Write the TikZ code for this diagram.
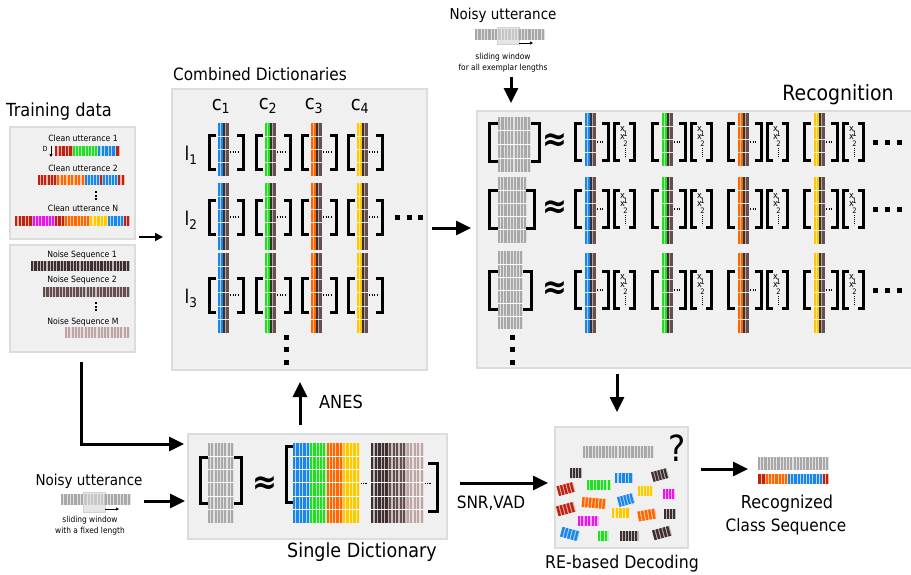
\documentclass[tikz,border=0pt]{standalone}
\usepackage{fontspec}
\setmainfont{DejaVu Sans}[FakeStretch=0.9]
\usetikzlibrary{arrows.meta}
\definecolor{cblue}{RGB}{28,134,232}
\definecolor{cgreen}{RGB}{34,222,34}
\definecolor{corange}{RGB}{255,102,0}
\definecolor{cyellow}{RGB}{255,200,0}
\definecolor{cred}{RGB}{190,35,15}
\definecolor{cmag}{RGB}{238,20,238}
\definecolor{brA}{RGB}{62,46,46}
\definecolor{brB}{RGB}{100,78,78}
\definecolor{brC}{RGB}{190,165,165}
\definecolor{brL}{RGB}{175,165,165}
\definecolor{ngray}{RGB}{168,168,168}
\definecolor{panelbg}{RGB}{240,240,240}
\definecolor{panelbd}{RGB}{220,220,220}

\newcommand\myfs[1]{\fontsize{#1}{#1}\selectfont}

% striped bar: x0 x1 y0 y1 color
\newcommand\sbar[5]{%
  \pgfmathtruncatemacro\sbn{max(1,round(((#2)-(#1))/3.3))}%
  \pgfmathsetmacro\sbw{((#2)-(#1))/\sbn}%
  \fill[fill=#5!35!white] (#1,#3) rectangle (#2,#4);
  \foreach \i in {1,...,\sbn}{\fill[fill=#5] ({#1+(\i-1)*\sbw},#3) rectangle ({#1+(\i-1)*\sbw+0.68*\sbw},#4);}%
}
% grid block: x0 x1 ytop ncells cellh color
\newcommand\gblk[6]{%
  \pgfmathsetmacro\gbb{#3+#4*#5}%
  \sbar{#1}{#2}{#3}{\gbb}{#6}
  \pgfmathtruncatemacro\gbm{#4-1}%
  \foreach \k in {1,...,\gbm}{\draw[white, line width=1pt] (#1,{#3+\k*#5}) -- (#2,{#3+\k*#5});}%
}
% dictionary column: x0 ytop n color
\newcommand\dcol[4]{%
  \pgfmathsetmacro\dcb{#2+#3*13.3}%
  \fill[fill=#4] (#1,#2) rectangle ({#1+4.5},\dcb);
  \draw[draw=#4!45!white, line width=0.7pt] ({#1+2.2},#2) -- ({#1+2.2},\dcb);
  \fill[fill=brL] ({#1+4.5},#2) rectangle ({#1+11},\dcb);
  \fill[fill=brA] ({#1+5.2},#2) rectangle ({#1+7.4},\dcb);
  \fill[fill=brB] ({#1+8.4},#2) rectangle ({#1+10.6},\dcb);
  \pgfmathtruncatemacro\dcm{#3-1}%
  \foreach \k in {1,...,\dcm}{\draw[white, opacity=.85, line width=0.9pt] (#1,{#2+\k*13.3}) -- ({#1+11},{#2+\k*13.3});}%
}
\newcommand\lbr[4]{\draw[brk] ({#1+#4},#2) -- (#1,#2) -- (#1,#3) -- ({#1+#4},#3);}
\newcommand\rbr[4]{\draw[brk] ({#1-#4},#2) -- (#1,#2) -- (#1,#3) -- ({#1-#4},#3);}
\newcommand\sq[3][5]{\fill ({#2-#1/2},{#3-#1/2}) rectangle ({#2+#1/2},{#3+#1/2});}
% rotated block: cx cy w h angle color
\newcommand\rblk[6]{%
  \begin{scope}[shift={(#1,#2)},rotate=#5]
  \pgfmathsetmacro\rbw{#3/2}\pgfmathsetmacro\rbh{#4/2}%
  \sbar{-\rbw}{\rbw}{-\rbh}{\rbh}{#6}
  \end{scope}}

\begin{document}
\begin{tikzpicture}[x=1pt,y=-1pt,
  panel/.style={fill=panelbg, draw=panelbd, line width=1.5pt, inner sep=0pt, outer sep=0pt, anchor=north west},
  arr/.style={line width=3pt, line join=miter, -{Triangle[length=15pt,width=14pt]}},
  sarr/.style={line width=1.8pt, -{Triangle[length=8pt,width=8pt]}},
  tarr/.style={line width=0.7pt, -{Triangle[length=3pt,width=3pt]}},
  brk/.style={line width=3pt, line cap=butt, line join=miter},
  dotln/.style={line width=1.2pt, dash pattern=on 1.2pt off 1.4pt},
  big/.style={font=\myfs{17}, inner sep=0pt},
  mid/.style={font=\myfs{15}, inner sep=0pt},
  small/.style={font=\myfs{8.6}, inner sep=0pt},
  tiny/.style={font=\myfs{8.3}, inner sep=0pt},
  approx/.style={font=\bfseries\myfs{33}, inner sep=0pt}]
\useasboundingbox (0,0) rectangle (911,574);

% ---------- panels ----------
\node[panel,minimum width=125pt,minimum height=112pt] (train1) at (10,127) {};
\node[panel,minimum width=125pt,minimum height=107pt] (train2) at (10,245) {};
\node[panel,minimum width=255pt,minimum height=281pt] (comb) at (172,89) {};
\node[panel,minimum width=445pt,minimum height=257pt] (recog) at (477,111) {};
\node[panel,minimum width=259pt,minimum height=105pt] (single) at (188,434) {};
\node[panel,minimum width=133pt,minimum height=121pt] (redec) at (555,427) {};

% ---------- titles ----------
\node[big, font=\myfs{18}] (ttrain) at (59,112) {Training data};
\node[big] (tcomb) at (260,74) {Combined Dictionaries};
\node[big, font=\myfs{21}] (trecog) at (838,95) {Recognition};
\node[big, font=\myfs{19.5}] (tsingle) at (362,552) {Single Dictionary};
\node[big, font=\myfs{17.5}] (tredec) at (622,564) {RE-based Decoding};
\node[big, font=\myfs{18}] (tanes) at (341,402) {ANES};
\node[big] (tsnr) at (491,503) {SNR,VAD};
\node[big, font=\myfs{17.8}] (trec1) at (787,504) {Recognized};
\node[big] (trec2) at (786,527) {Class Sequence};

% ---------- training data ----------
\node[small] (cu1) at (83,138) {Clean utterance 1};
\node[small] (cu2) at (83,168) {Clean utterance 2};
\node[small] (cuN) at (83,208) {Clean utterance N};
\node[small] (ns1) at (82,255) {Noise Sequence 1};
\node[small] (ns2) at (82,280) {Noise Sequence 2};
\node[small] (nsM) at (83,322) {Noise Sequence M};
\node[font=\myfs{7}, inner sep=0pt] (dlab) at (45,149) {D};
\coordinate (dA) at (51,146);
\coordinate (dB) at (51,157);
\draw[tarr] (dA) -- (dB);
\sbar{55}{73}{146}{156}{cred}
\sbar{73}{98}{146}{156}{cgreen}
\sbar{98}{116}{146}{156}{cblue}
\sbar{116}{120}{146}{156}{cred}
\sbar{38}{57}{175}{185}{cred}
\sbar{57}{85}{175}{185}{corange}
\sbar{85}{100}{175}{185}{cblue}
\sbar{100}{103}{175}{185}{cred}
\sbar{103}{118}{175}{185}{cblue}
\sbar{118}{125}{175}{185}{cred}
\sq[2]{96}{192}\sq[2]{96}{195.5}\sq[2]{96}{199}
\sbar{15}{33}{216}{226}{cred}
\sbar{33}{55}{216}{226}{cmag}
\sbar{55}{65}{216}{226}{cred}
\sbar{65}{90}{216}{226}{corange}
\sbar{90}{108}{216}{226}{cyellow}
\sbar{108}{124}{216}{226}{cblue}
\sbar{124}{130}{216}{226}{cred}
\sbar{31}{130}{261}{271}{brA}
\sbar{43}{130}{287}{297}{brB}
\sq[2]{96}{303}\sq[2]{96}{306.5}\sq[2]{96}{310}
\sbar{65}{130}{327}{338}{brC}

% ---------- combined dictionaries ----------
\foreach \x/\i in {218/1,265/2,311/3,357/4}{
  \node[font=\myfs{20}, inner sep=0pt] (c\i) at (\x+3,106) {c\textsubscript{\i}};
}
\foreach \yt/\n/\yc/\lab in {123/4/152/1,183/5/217/2,253/6/295/3}{
  \node[font=\myfs{19}, inner sep=0pt] (l\lab) at (191,\yc+3) {l\textsubscript{\lab}};
  \foreach \x/\c in {218/cblue,265/cgreen,311/corange,357/cyellow}{
    \dcol{\x}{\yt}{\n}{\c}
    \lbr{\x-8.5}{\yc-17}{\yc+17}{6.5}
    \rbr{\x+25.5}{\yc-17}{\yc+17}{6.5}
    \draw[dotln] (\x+12,\yc) -- (\x+20,\yc);
  }
}
\sq{397.5}{217.5}\sq{409.5}{217.5}\sq{420.5}{217.5}
\sq{286}{337}\sq{286}{349.5}\sq{286}{362}

% ---------- recognition ----------
\foreach \yt/\n/\yc/\bx/\rb/\gy/\gn/\gh in {113/4/142/531/539/117/4/13.75,177/5/209/527/534/177/5/13.2,253/6/290/523/531/251/6/13}{
  \gblk{498}{\bx}{\gy}{\gn}{\gh}{ngray}
  \lbr{489}{\yc-19}{\yc+19}{9}
  \rbr{\rb}{\yc-19}{\yc+19}{8}
  \node[approx] (ap\yc) at (555,\yc) {≈};
  \foreach \x/\c in {585/cblue,662/cgreen,738/corange,814/cyellow}{
    \dcol{\x}{\yt}{\n}{\c}
    \lbr{\x-10}{\yc-18.5}{\yc+18.5}{7}
    \rbr{\x+23}{\yc-18.5}{\yc+18.5}{6}
    \draw[dotln] (\x+12,\yc) -- (\x+19,\yc);
    \lbr{\x+29}{\yc-18.5}{\yc+18.5}{5.5}
    \rbr{\x+49}{\yc-18.5}{\yc+18.5}{5.5}
    \node[font=\myfs{9}, inner sep=0pt] (xa\x\yc) at (\x+37.5,\yc-13) {x};
    \node[font=\myfs{7.5}, inner sep=0pt] (xb\x\yc) at (\x+40.5,\yc-8) {1};
    \node[font=\myfs{9}, inner sep=0pt] (xc\x\yc) at (\x+37.5,\yc-4.5) {x};
    \node[font=\myfs{7.5}, inner sep=0pt] (xd\x\yc) at (\x+40.5,\yc+1.5) {2};
    \draw[line width=0.6pt, dash pattern=on 0.7pt off 1.3pt] (\x+40,\yc+6) -- (\x+40,\yc+16);
  }
  \sq{875}{\yc}\sq{887}{\yc}\sq{899}{\yc}
}
\sq{512}{337}\sq{512}{349.5}\sq{512}{362}

% ---------- top noisy utterance ----------
\node[mid] (nu1) at (503,15) {Noisy utterance};
\fill[gray!20] (497,27) rectangle (519,44);
\draw[gray!35, line width=0.5pt] (497,27) rectangle (519,44);
\sbar{475}{545}{29}{40}{ngray}
\fill[gray!20,opacity=.5] (497,29) rectangle (519,40);
\coordinate (w1a) at (519,43);
\coordinate (w1b) at (533,43);
\draw[tarr] (w1a) -- (w1b);
\node[tiny] (sw1) at (503,57) {sliding window};
\node[tiny] (sw1b) at (503,68) {for all exemplar lengths};

% ---------- bottom noisy utterance ----------
\node[mid] (nu2) at (89,481) {Noisy utterance};
\fill[gray!20] (83,492) rectangle (105,512);
\draw[gray!35, line width=0.5pt] (83,492) rectangle (105,512);
\sbar{61}{131}{494}{505}{ngray}
\fill[gray!20,opacity=.5] (83,494) rectangle (105,505);
\coordinate (w2a) at (105,509);
\coordinate (w2b) at (119,509);
\draw[tarr] (w2a) -- (w2b);
\node[tiny] (sw2) at (90,520) {sliding window};
\node[tiny] (sw2b) at (90,531) {with a fixed length};

% ---------- single dictionary ----------
\gblk{208}{234}{443}{6}{13.33}{ngray}
\lbr{200}{457}{503}{8}
\rbr{241}{457}{503}{7}
\node[approx] (aps) at (265,485) {≈};
\lbr{286}{446}{502}{8}
\gblk{293}{310}{443}{6}{13.33}{cblue}
\gblk{310}{326.5}{443}{6}{13.33}{cgreen}
\gblk{326.5}{343}{443}{6}{13.33}{corange}
\gblk{343}{360}{443}{6}{13.33}{cyellow}
\draw[line width=0.8pt, dash pattern=on 0.8pt off 1pt] (361,483) -- (368,483);
\gblk{371}{389}{443}{6}{13.33}{brA}
\gblk{389}{406.5}{443}{6}{13.33}{brB}
\gblk{406.5}{424}{443}{6}{13.33}{brC}
\draw[line width=0.8pt, dash pattern=on 0.8pt off 1pt] (425,483) -- (432,483);
\rbr{437}{463}{511}{9}

% ---------- RE-based decoding ----------
\node[font=\myfs{36}, inner sep=0pt] (qm) at (677,448) {?};
\sbar{583}{654}{446}{458}{ngray}
\rblk{576}{473}{12}{10}{0}{brA}
\rblk{566}{489}{17}{10}{15}{cred}
\rblk{599}{485}{24}{10}{0}{cgreen}
\rblk{624}{478}{18}{10}{0}{cblue}
\rblk{660}{475}{16}{10}{15}{brA}
\rblk{645}{491}{15}{10}{0}{cyellow}
\rblk{669}{494}{12}{10}{0}{cmag}
\rblk{594}{503}{24}{10}{-5}{corange}
\rblk{626}{500}{16}{10}{15}{cblue}
\rblk{566}{509}{18}{10}{15}{cred}
\rblk{588}{521}{21}{10}{0}{cmag}
\rblk{621}{513}{18}{10}{0}{cyellow}
\rblk{647}{515}{18}{10}{10}{corange}
\rblk{670}{514}{12}{10}{0}{brA}
\rblk{570}{534}{18}{10}{-15}{cblue}
\rblk{603}{536}{11}{10}{0}{cgreen}
\rblk{629}{536}{19}{10}{0}{brA}
\rblk{662}{533}{18}{10}{15}{brA}

% ---------- recognized sequence ----------
\sbar{758}{829}{457}{470}{ngray}
\sbar{758}{766}{474}{484}{cred}
\sbar{766}{788}{474}{484}{corange}
\sbar{788}{823}{474}{484}{cblue}
\sbar{823}{829}{474}{484}{cred}

% ---------- arrows ----------
\coordinate (a1a) at (139,237);
\coordinate (a1b) at (163,237);
\draw[sarr] (a1a) -- (a1b);
\coordinate (a2a) at (432,228);
\coordinate (a2b) at (471,228);
\draw[arr] (a2a) -- (a2b);
\coordinate (a3a) at (511,77);
\coordinate (a3b) at (511,103);
\draw[arr] (a3a) -- (a3b);
\coordinate (a4a) at (617,374);
\coordinate (a4b) at (617,412);
\draw[arr] (a4a) -- (a4b);
\coordinate (a5a) at (300,425);
\coordinate (a5b) at (300,382);
\draw[arr] (a5a) -- (a5b);
\coordinate (a6a) at (81,362);
\coordinate (a6b) at (184,444);
\draw[arr] (a6a) |- (a6b);
\coordinate (a7a) at (144,501);
\coordinate (a7b) at (185,501);
\draw[arr] (a7a) -- (a7b);
\coordinate (a8a) at (460,483);
\coordinate (a8b) at (548,483);
\draw[arr] (a8a) -- (a8b);
\coordinate (a9a) at (701,469);
\coordinate (a9b) at (748,469);
\draw[arr] (a9a) -- (a9b);
\end{tikzpicture}
\end{document}
